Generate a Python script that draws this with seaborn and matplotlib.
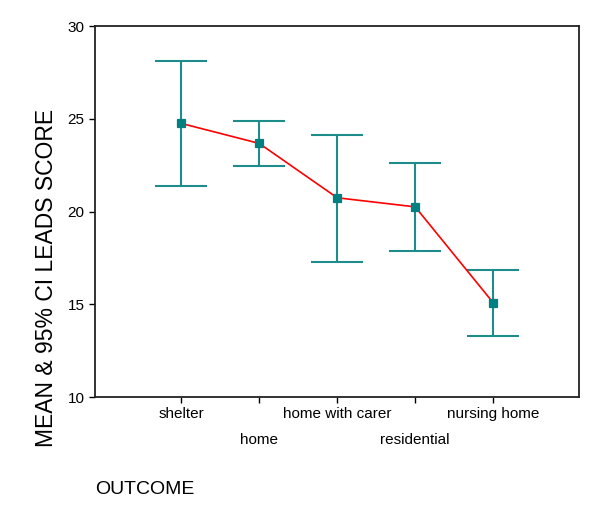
import pandas as pd
import seaborn as sns
import matplotlib.pyplot as plt

# values
outcomes = ["shelter", "home", "home with carer", "residential", "nursing home"]
mean_score = [24.75, 23.67, 20.74, 20.25, 15.08]
ci_lower = [21.38, 22.48, 17.30, 17.88, 13.30]
ci_upper = [28.12, 24.90, 24.10, 22.61, 16.86]

df = pd.DataFrame({"OUTCOME": outcomes, "score": mean_score,
                   "lo": ci_lower, "hi": ci_upper})

sns.set_style("ticks")
plt.rcParams["font.family"] = ["Liberation Sans", "DejaVu Sans"]
plt.rcParams["text.color"] = "black"
plt.rcParams["axes.labelcolor"] = "black"

fig = plt.figure(figsize=(6, 5.15), dpi=100)
ax = fig.add_axes([0.1583, 0.2291, 0.8067, 0.7204])

teal = "#008080"

# CI whiskers
ax.errorbar(range(len(df)), df["score"],
            yerr=[df["score"] - df["lo"], df["hi"] - df["score"]],
            fmt="none", ecolor="#1f8c8c", elinewidth=1.5, capsize=19,
            capthick=1.5, zorder=2)

# means joined by red line
sns.pointplot(data=df, x="OUTCOME", y="score", errorbar=None, color="red",
              markers="s", markersize=6, markerfacecolor=teal,
              markeredgecolor=teal, linewidth=1.2, ax=ax, zorder=3)

ax.set_ylim(10, 30)
ax.set_yticks([10, 15, 20, 25, 30])
ax.set_xlim(-1.106, 5.1)
ax.set_xticks(range(len(outcomes)))
ax.set_xticklabels(outcomes)
ax.tick_params(axis="both", direction="out", length=4, width=1,
               labelsize=11, colors="black")

# stagger the category labels in two rows
for i, tick in enumerate(ax.xaxis.get_major_ticks()):
    tick.set_pad(3 if i % 2 == 0 else 22)

for side in ["left", "bottom", "top", "right"]:
    ax.spines[side].set_visible(True)
    ax.spines[side].set_color("#222222")
    ax.spines[side].set_linewidth(1.3)

ax.set_ylabel("MEAN & 95% CI LEADS SCORE", fontsize=16.5)
ax.yaxis.set_label_coords(-0.077, 0.32)
ax.set_xlabel("OUTCOME", fontsize=14, loc="left")
ax.xaxis.set_label_coords(0.0, -0.226)
ax.xaxis.label.set_horizontalalignment("left")

fig.savefig("out.png", dpi=100, facecolor="white")
